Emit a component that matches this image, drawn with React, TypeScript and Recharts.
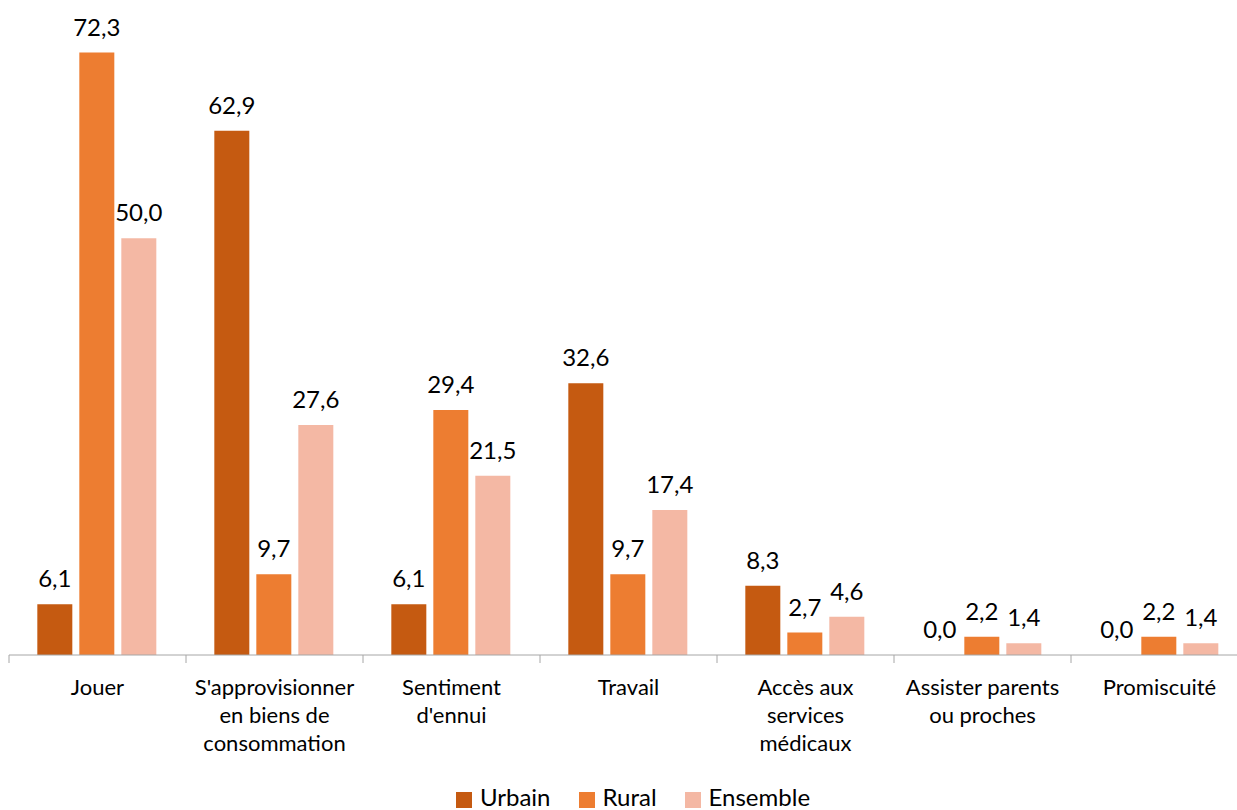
import { Bar, BarChart, LabelList, XAxis, YAxis } from "recharts";

const categories = [
  "Jouer",
  "S'approvisionner\nen biens de\nconsommation",
  "Sentiment\nd'ennui",
  "Travail",
  "Accès aux\nservices\nmédicaux",
  "Assister parents\nou proches",
  "Promiscuité",
];
const urbain = [6.1, 62.9, 6.1, 32.6, 8.3, 0.0, 0.0];
const rural = [72.3, 9.7, 29.4, 9.7, 2.7, 2.2, 2.2];
const ensemble = [50.0, 27.6, 21.5, 17.4, 4.6, 1.4, 1.4];

const series = [
  { key: "urbain", name: "Urbain", color: "#C55A11" },
  { key: "rural", name: "Rural", color: "#ED7D31" },
  { key: "ensemble", name: "Ensemble", color: "#F4B8A4" },
];

const data = categories.map((cat, i) => ({
  cat,
  urbain: urbain[i],
  rural: rural[i],
  ensemble: ensemble[i],
}));

const FONT = "Lato, 'Open Sans', sans-serif";
const AXIS_COLOR = "#A6A6A6";

const fmt = (v: any) => Number(v).toFixed(1).replace(".", ",");

function CategoryTick(props: any) {
  const { x, y, payload, index, visibleTicksCount } = props;
  const half = payload.offset ?? 0;
  const lines = String(payload.value).split("\n");
  return (
    <g>
      <line x1={x - half} x2={x - half} y1={y - 8} y2={y} stroke={AXIS_COLOR} />
      {index === visibleTicksCount - 1 && (
        <line x1={x + half} x2={x + half} y1={y - 8} y2={y} stroke={AXIS_COLOR} />
      )}
      <text
        x={x}
        y={y + 32}
        textAnchor="middle"
        fontFamily={FONT}
        fontSize={22}
        fill="#000"
      >
        {lines.map((l, i) => (
          <tspan key={i} x={x} dy={i === 0 ? 0 : 28}>
            {l}
          </tspan>
        ))}
      </text>
    </g>
  );
}

export default function App() {
  return (
    <div
      style={{
        position: "absolute",
        left: 0,
        top: 0,
        width: 1237,
        height: 810,
        overflow: "hidden",
        background: "#fff",
        fontFamily: FONT,
      }}
    >
      <BarChart
        width={1260}
        height={760}
        data={data}
        margin={{ top: 30, right: 12, left: 9, bottom: 0 }}
        barCategoryGap="16%"
        barGap={7}
      >
        <XAxis
          dataKey="cat"
          height={105}
          interval={0}
          axisLine={{ stroke: AXIS_COLOR }}
          tickLine={false}
          tickSize={8}
          tickMargin={0}
          tick={<CategoryTick />}
        />
        <YAxis hide domain={[0, 75]} />
        {series.map((s) => (
          <Bar
            key={s.key}
            dataKey={s.key}
            name={s.name}
            fill={s.color}
            minPointSize={0.001}
            isAnimationActive={false}
          >
            <LabelList
              dataKey={s.key}
              position="top"
              offset={17}
              formatter={fmt}
              style={{ fontFamily: FONT, fontSize: 24, fill: "#000" }}
            />
          </Bar>
        ))}
      </BarChart>
      <div
        style={{
          position: "absolute",
          left: 0,
          top: 785,
          width: 1266,
          display: "flex",
          justifyContent: "center",
          alignItems: "center",
          fontSize: 24,
          color: "#000",
          lineHeight: "24px",
        }}
      >
        {series.map((s, i) => (
          <div
            key={s.key}
            style={{
              display: "flex",
              alignItems: "center",
              marginLeft: i === 0 ? 0 : 28,
            }}
          >
            <span
              style={{
                display: "inline-block",
                width: 16,
                height: 16,
                background: s.color,
                marginRight: 8,
                position: "relative",
                top: 3,
              }}
            />
            <span>{s.name}</span>
          </div>
        ))}
      </div>
    </div>
  );
}
